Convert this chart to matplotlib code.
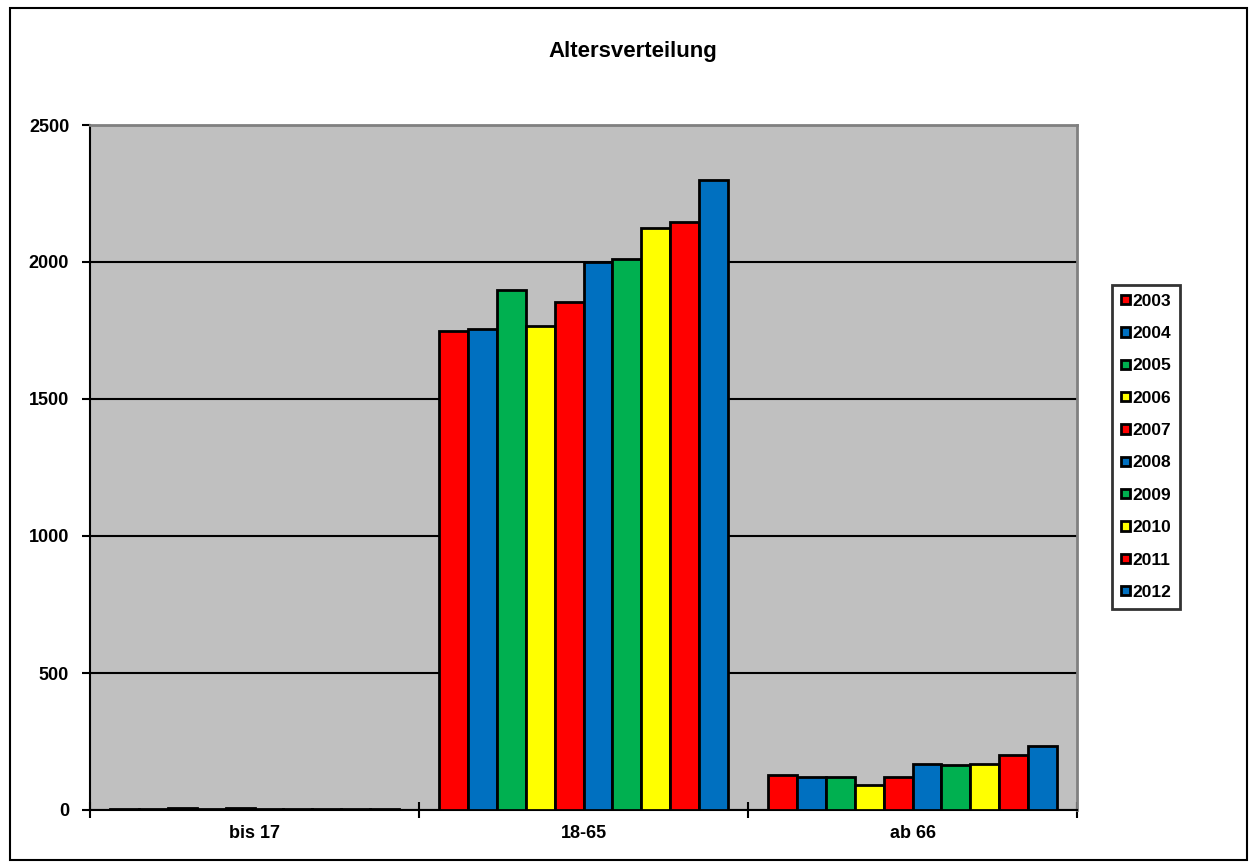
import matplotlib
matplotlib.use("Agg")
import matplotlib.pyplot as plt
import numpy as np
from matplotlib.patches import Rectangle

categories = ["bis 17", "18-65", "ab 66"]
years = ["2003", "2004", "2005", "2006", "2007", "2008", "2009", "2010", "2011", "2012"]
bis17 = [3, 3, 8, 3, 8, 3, 3, 3, 3, 3]
mid = [1749, 1754, 1898, 1766, 1855, 2001, 2010, 2124, 2146, 2299]
ab66 = [126, 122, 122, 90, 122, 169, 165, 169, 202, 234]
colors = ["#FF0000", "#0070C0", "#00B050", "#FFFF00"] * 3
yticks = [0, 500, 1000, 1500, 2000, 2500]

plt.rcParams['font.family'] = ['Liberation Sans', 'DejaVu Sans']
plt.rcParams['font.weight'] = 'bold'

fig = plt.figure(figsize=(12.57, 8.68), dpi=100)
fig.patches.append(Rectangle((10/1257, 8/868), 1237/1257, 852/868, transform=fig.transFigure,
                             fill=False, edgecolor='black', linewidth=1.5))
ax = fig.add_axes([90/1257, 1-810/868, 987/1257, 685/868])
ax.set_facecolor('#C0C0C0')

data = np.array([bis17, mid, ab66])
n = len(years)
bw = 0.088
x = np.arange(len(categories))
for i in range(n):
    ax.bar(x + (i - (n-1)/2) * bw, data[:, i], width=bw, color=colors[i],
           edgecolor='black', linewidth=2, label=years[i], zorder=3)

ax.set_xlim(-0.5, 2.5)
ax.set_ylim(0, 2500)
ax.set_yticks(yticks)
ax.set_yticklabels([str(v) for v in yticks], fontsize=13, fontweight='bold')
ax.yaxis.grid(True, color='black', linewidth=1.5, zorder=1)
ax.set_axisbelow(True)
ax.tick_params(axis='y', direction='out', length=6, width=1.5, pad=9)
ax.set_xticks(x)
ax.set_xticklabels(categories, fontsize=13, fontweight='bold')
ax.set_xticks([-0.5, 0.5, 1.5, 2.5], minor=True)
ax.tick_params(axis='x', which='major', length=0, pad=11)
ax.tick_params(axis='x', which='minor', direction='inout', length=12, width=1.5)
for s in ['left', 'bottom']:
    ax.spines[s].set_color('black')
    ax.spines[s].set_linewidth(1.5)
for s in ['right', 'top']:
    ax.spines[s].set_color('#808080')
    ax.spines[s].set_linewidth(2)

fig.text(633/1257, 1-52/868, "Altersverteilung", ha='center', va='center', fontsize=16, fontweight='bold')

leg = ax.legend(loc='upper left', bbox_to_anchor=(1112/1257, 1-285/868), bbox_transform=fig.transFigure,
                frameon=True, fancybox=False, edgecolor='black',
                prop={'weight': 'bold', 'size': 12.5}, handlelength=0.55, handleheight=0.45,
                handletextpad=0.15, labelspacing=1.0, borderpad=0.5, borderaxespad=0)
leg.get_frame().set_linewidth(2)

fig.savefig("out.png", dpi=100)
